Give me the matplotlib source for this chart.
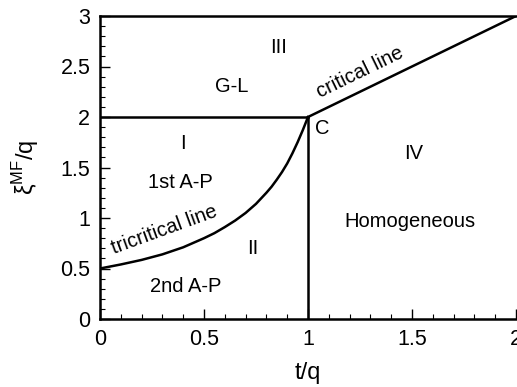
import numpy as np
import matplotlib.pyplot as plt
from matplotlib.ticker import MultipleLocator

plt.rcParams['font.family'] = ['Liberation Sans', 'DejaVu Sans']
plt.rcParams['mathtext.fontset'] = 'custom'
plt.rcParams['mathtext.rm'] = 'Liberation Sans'

# tricritical line
tri_x = [0.0, 0.1, 0.2, 0.3, 0.4, 0.5, 0.55, 0.6, 0.65, 0.7, 0.75, 0.8, 0.825,
         0.85, 0.875, 0.9, 0.925, 0.95, 0.975, 1.0]
tri_y = [0.5, 0.54, 0.585, 0.64, 0.71, 0.80, 0.85, 0.91, 0.975, 1.05, 1.14, 1.25, 1.31,
         1.38, 1.455, 1.54, 1.64, 1.75, 1.87, 2.0]

# first order boundary (G-L / I) and critical line
flat_x = [0.0, 1.0]
flat_y = [2.0, 2.0]
crit_x = [1.0, 2.0]
crit_y = [2.0, 3.0]
vert_x = [1.0, 1.0]
vert_y = [0.0, 2.0]

labels = [
    ("III", 0.86, 2.69, 0),
    ("G-L", 0.635, 2.30, 0),
    ("critical line", 1.25, 2.44, 26),
    ("C", 1.07, 1.89, 0),
    ("IV", 1.51, 1.64, 0),
    ("I", 0.40, 1.74, 0),
    ("1st A-P", 0.385, 1.35, 0),
    ("tricritical line", 0.31, 0.88, 20),
    ("II", 0.735, 0.70, 0),
    ("2nd A-P", 0.41, 0.32, 0),
    ("Homogeneous", 1.49, 0.97, 0),
]

fig = plt.figure(figsize=(5.17, 3.87), dpi=100)
ax = fig.add_axes([100/517, 68/387, 416/517, 303/387])

lw = 1.8
ax.plot(tri_x, tri_y, color='black', lw=lw)
ax.plot(flat_x, flat_y, color='black', lw=lw)
ax.plot(crit_x, crit_y, color='black', lw=lw)
ax.plot(vert_x, vert_y, color='black', lw=lw)

for txt, x, y, rot in labels:
    ax.text(x, y, txt, ha='center', va='center', rotation=rot,
            rotation_mode='anchor', fontsize=14.5)

ax.set_xlim(0, 2)
ax.set_ylim(0, 3)
ax.xaxis.set_major_locator(MultipleLocator(0.5))
ax.xaxis.set_minor_locator(MultipleLocator(0.1))
ax.yaxis.set_major_locator(MultipleLocator(0.5))
ax.yaxis.set_minor_locator(MultipleLocator(0.1))
ax.xaxis.set_major_formatter(plt.FuncFormatter(lambda v, p: f"{v:g}"))
ax.yaxis.set_major_formatter(plt.FuncFormatter(lambda v, p: f"{v:g}"))
ax.tick_params(which='major', direction='in', length=7, width=1, labelsize=15.5, pad=7)
ax.tick_params(which='minor', direction='in', length=3.5, width=0.8)
ax.tick_params(top=False, right=False)

for s in ['left', 'bottom', 'top']:
    ax.spines[s].set_linewidth(1.8)
ax.spines['right'].set_visible(False)

ax.set_xlabel("t/q", fontsize=17, labelpad=9)
ax.set_ylabel(r"ξ$^{\mathrm{MF}}$/q", fontsize=17, labelpad=14)

fig.savefig("out.png", dpi=100)
